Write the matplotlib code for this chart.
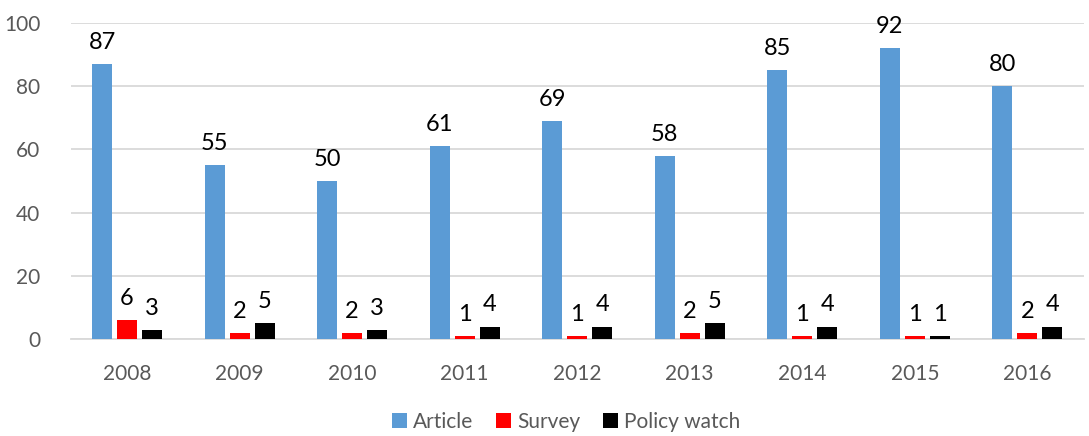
import numpy as np
import matplotlib
matplotlib.use('Agg')
import matplotlib.pyplot as plt

plt.rcParams['font.family'] = ['Lato', 'DejaVu Sans']

years = ['2008', '2009', '2010', '2011', '2012', '2013', '2014', '2015', '2016']
article = [87, 55, 50, 61, 69, 58, 85, 92, 80]
survey = [6, 2, 2, 1, 1, 2, 1, 1, 2]
policy = [3, 5, 3, 4, 4, 5, 4, 1, 4]

fig = plt.figure(figsize=(10.89, 4.36), dpi=100)
ax = fig.add_axes([0.065, 0.222, 0.93, 0.726])

x = np.arange(len(years))
w = 0.178
step = 0.222
series = [(article, '#5B9BD5', 'Article'),
          (survey, '#FF0000', 'Survey'),
          (policy, '#000000', 'Policy watch')]
for i, (vals, col, lab) in enumerate(series):
    bars = ax.bar(x + (i - 1) * step, vals, w, color=col, label=lab, zorder=3)
    for b, v in zip(bars, vals):
        ax.annotate(str(v), (b.get_x() + b.get_width() / 2, v),
                    xytext=(0, 8), textcoords='offset points',
                    ha='center', va='bottom', fontsize=17, color='black')

ax.set_xlim(-0.5, len(years) - 0.5)
ax.set_ylim(0, 100)
ax.set_yticks(range(0, 101, 20))
ax.set_xticks(x)
ax.set_xticklabels(years)
ax.grid(axis='y', color='#D9D9D9', linewidth=1.3, zorder=0)
for s in ['top', 'right', 'left']:
    ax.spines[s].set_visible(False)
ax.spines['bottom'].set_color('#D9D9D9')
ax.spines['bottom'].set_linewidth(1.3)
ax.tick_params(length=0, labelsize=15, colors='#595959')
ax.tick_params(axis='x', pad=18)
ax.tick_params(axis='y', pad=22)

fig.legend(loc='center', bbox_to_anchor=(0.52, 0.033), ncol=3, frameon=False,
           fontsize=15, labelcolor='#595959', handlelength=0.7, handleheight=0.7,
           handletextpad=0.3, columnspacing=1.1)

fig.savefig('out.png', dpi=100)
